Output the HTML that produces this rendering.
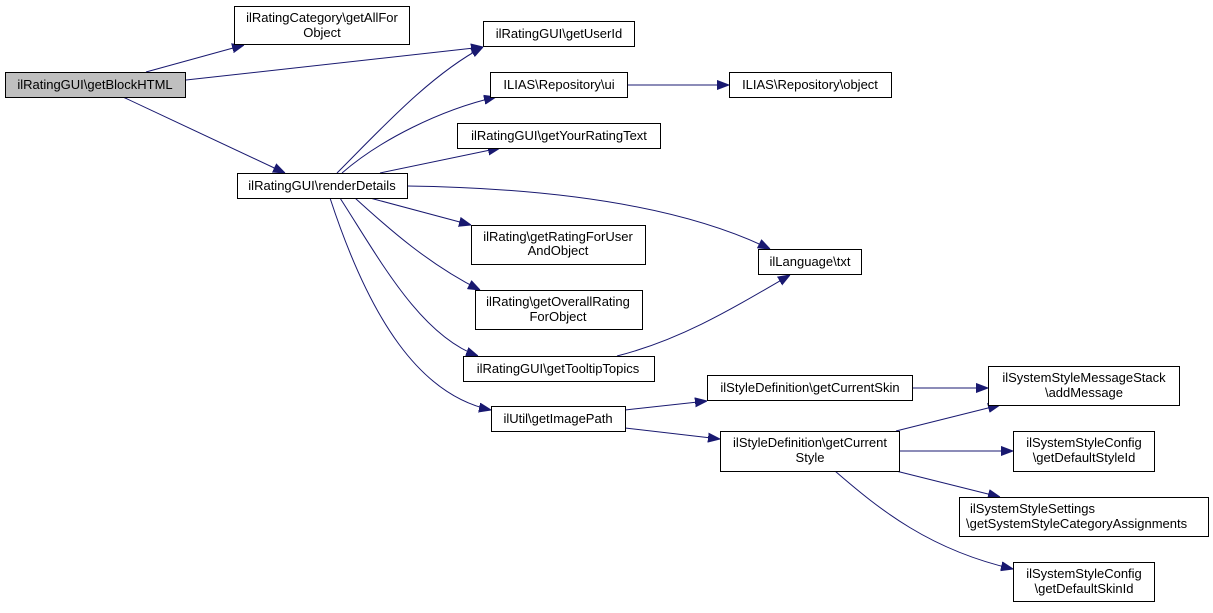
<!DOCTYPE html>
<html><head><meta charset="utf-8"><style>
html,body{margin:0;padding:0;background:#fff;}
text{font-family:"Liberation Sans",sans-serif;font-size:13px;fill:#000;}
rect{fill:#fff;stroke:#000;stroke-width:1;}
path{fill:none;stroke:#191970;stroke-width:1;}
</style></head><body>
<svg width="1213" height="608" viewBox="0 0 1213 608" xmlns="http://www.w3.org/2000/svg">
<defs><marker id="a" markerWidth="12" markerHeight="10" refX="12" refY="5" orient="auto" markerUnits="userSpaceOnUse"><polygon points="0,0.5 12,5 0,9.5" fill="#191970" stroke="#191970"/></marker></defs>
<path d="M146,72 L244,45" marker-end="url(#a)"/>
<path d="M186,80 C300,68 400,57 483,47" marker-end="url(#a)"/>
<path d="M123,97 L285,173" marker-end="url(#a)"/>
<path d="M337,173 C380,130 430,75 483,47" marker-end="url(#a)"/>
<path d="M342,173 C380,140 440,110 496,97" marker-end="url(#a)"/>
<path d="M380,173 L500,148" marker-end="url(#a)"/>
<path d="M407,186 C550,188 680,205 770,249" marker-end="url(#a)"/>
<path d="M370,198 L471,225" marker-end="url(#a)"/>
<path d="M355,198 C390,230 430,265 480,290" marker-end="url(#a)"/>
<path d="M340,198 C380,260 420,335 478,356" marker-end="url(#a)"/>
<path d="M330,198 C370,320 420,395 491,410" marker-end="url(#a)"/>
<path d="M617,356 C680,340 730,310 790,275" marker-end="url(#a)"/>
<path d="M627,85 L729,85" marker-end="url(#a)"/>
<path d="M625,410 L707,401" marker-end="url(#a)"/>
<path d="M625,428 L720,439" marker-end="url(#a)"/>
<path d="M912,388 L988,388" marker-end="url(#a)"/>
<path d="M896,431 L1000,405" marker-end="url(#a)"/>
<path d="M899,451 L1013,451" marker-end="url(#a)"/>
<path d="M896,471 L1000,497" marker-end="url(#a)"/>
<path d="M835,471 C880,510 930,550 1013,569" marker-end="url(#a)"/>
<rect x="5.5" y="72.5" width="180" height="25" style="fill:#bfbfbf"/><text x="95" y="89" text-anchor="middle">ilRatingGUI\getBlockHTML</text>
<rect x="234.5" y="6.5" width="175" height="38"/><text x="322" y="22" text-anchor="middle">ilRatingCategory\getAllFor</text><text x="322" y="37" text-anchor="middle">Object</text>
<rect x="483.5" y="21.5" width="151" height="25"/><text x="559" y="38" text-anchor="middle">ilRatingGUI\getUserId</text>
<rect x="490.5" y="72.5" width="137" height="25"/><text x="559" y="89" text-anchor="middle">ILIAS\Repository\ui</text>
<rect x="729.5" y="72.5" width="162" height="25"/><text x="810" y="89" text-anchor="middle">ILIAS\Repository\object</text>
<rect x="457.5" y="123.5" width="203" height="25"/><text x="559" y="140" text-anchor="middle">ilRatingGUI\getYourRatingText</text>
<rect x="237.5" y="173.5" width="170" height="25"/><text x="322" y="190" text-anchor="middle">ilRatingGUI\renderDetails</text>
<rect x="471.5" y="225.5" width="174" height="39"/><text x="558" y="241" text-anchor="middle">ilRating\getRatingForUser</text><text x="558" y="255" text-anchor="middle">AndObject</text>
<rect x="475.5" y="290.5" width="167" height="39"/><text x="558" y="306" text-anchor="middle">ilRating\getOverallRating</text><text x="558" y="321" text-anchor="middle">ForObject</text>
<rect x="758.5" y="249.5" width="103" height="25"/><text x="810" y="266" text-anchor="middle">ilLanguage\txt</text>
<rect x="463.5" y="356.5" width="191" height="25"/><text x="558" y="373" text-anchor="middle">ilRatingGUI\getTooltipTopics</text>
<rect x="491.5" y="406.5" width="134" height="25"/><text x="558" y="423" text-anchor="middle">ilUtil\getImagePath</text>
<rect x="707.5" y="375.5" width="205" height="25"/><text x="810" y="392" text-anchor="middle">ilStyleDefinition\getCurrentSkin</text>
<rect x="720.5" y="431.5" width="179" height="40"/><text x="810" y="447" text-anchor="middle">ilStyleDefinition\getCurrent</text><text x="810" y="462" text-anchor="middle">Style</text>
<rect x="988.5" y="366.5" width="191" height="39"/><text x="1084" y="382" text-anchor="middle">ilSystemStyleMessageStack</text><text x="1084" y="397" text-anchor="middle">\addMessage</text>
<rect x="1013.5" y="431.5" width="141" height="40"/><text x="1084" y="447" text-anchor="middle">ilSystemStyleConfig</text><text x="1084" y="462" text-anchor="middle">\getDefaultStyleId</text>
<rect x="959.5" y="497.5" width="249" height="39"/><text x="970" y="513">ilSystemStyleSettings</text><text x="966" y="528">\getSystemStyleCategoryAssignments</text>
<rect x="1013.5" y="562.5" width="141" height="39"/><text x="1084" y="578" text-anchor="middle">ilSystemStyleConfig</text><text x="1084" y="593" text-anchor="middle">\getDefaultSkinId</text>
</svg>
</body></html>
